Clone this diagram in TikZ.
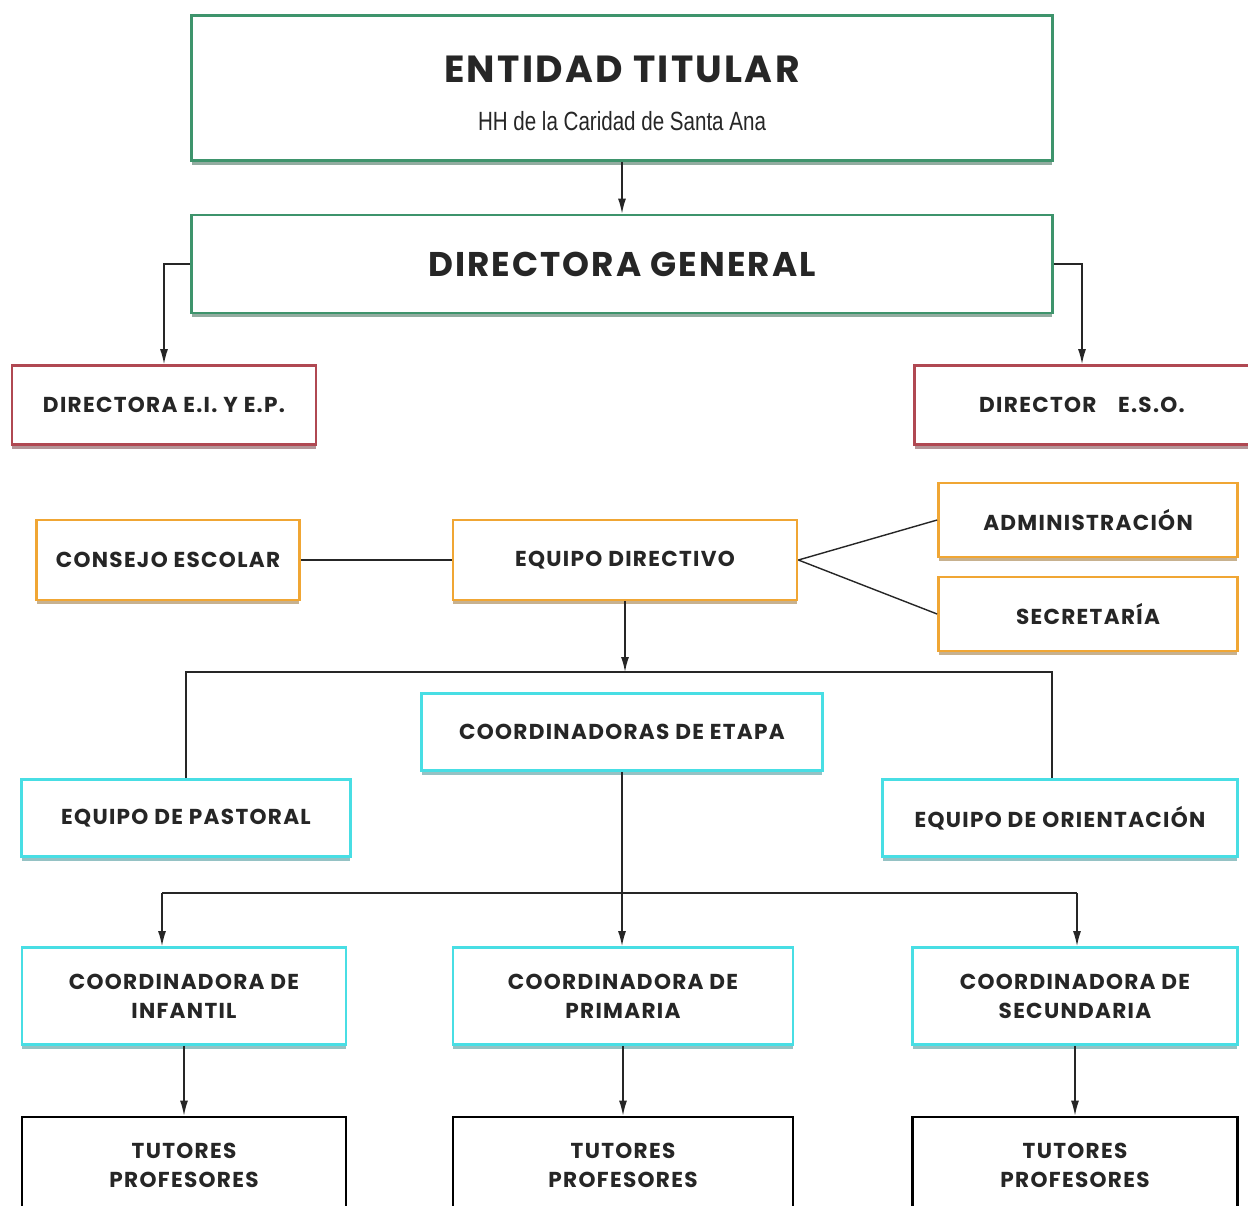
\documentclass[tikz,border=0pt]{standalone}
\usepackage{fontspec}
\setmainfont{Poppins}
\newfontfamily\boxfont{Poppins}[LetterSpace=6]
\newfontfamily\narrowfont{Liberation Sans}
\usetikzlibrary{arrows.meta,shadows}
\definecolor{titlegreen}{RGB}{62,148,108}
\definecolor{dirred}{RGB}{176,72,82}
\definecolor{teamorange}{RGB}{240,166,52}
\definecolor{coordcyan}{RGB}{72,222,228}
\definecolor{labelgray}{RGB}{38,38,38}
\tikzset{
	orgbox/.style={draw=#1, line width=1.6pt, fill=white, text=labelgray, align=center,
		font=\boxfont\bfseries\fontsize{12.3}{16.5}\selectfont,
		drop shadow={shadow xshift=0pt, shadow yshift=-2.5pt, fill=#1!60!black, opacity=0.5}},
	bigtext/.style={font=\boxfont\bfseries\fontsize{19.5}{26}\selectfont},
	link/.style={line width=0.8pt, draw=black!85},
	arr/.style={link, -{Latex[length=3mm,width=1.6mm]}},
}
\begin{document}
\begin{tikzpicture}[x=0.02cm, y=-0.02cm]
	\useasboundingbox (0,0) rectangle (1248,1205);
	% Top of the chart:
	\node[orgbox=titlegreen, minimum width=17.22cm, minimum height=2.9cm] (titular) at (622,88)
		{{\fontsize{21.5}{26}\selectfont\rule{0pt}{21pt}ENTIDAD TITULAR}\\[11pt]{\narrowfont\mdseries\fontsize{15}{18}\selectfont\scalebox{0.78}[1]{HH de la Caridad de Santa Ana}}};
	\node[orgbox=titlegreen, bigtext, minimum width=17.22cm, minimum height=1.96cm] (general) at (622,264) {DIRECTORA GENERAL};
	\node[orgbox=dirred, minimum width=6.08cm, minimum height=1.58cm] (dirEI) at (164,405) {DIRECTORA E.I. Y E.P.};
	\node[orgbox=dirred, minimum width=6.7cm, minimum height=1.58cm] (dirESO) at (1082,405) {DIRECTOR\quad E.S.O.};
	% Management:
	\node[orgbox=teamorange, minimum width=5.26cm, minimum height=1.6cm] (consejo) at (168,560) {CONSEJO ESCOLAR};
	\node[orgbox=teamorange, minimum width=6.88cm, minimum height=1.6cm] (directivo) at (625,560) {EQUIPO DIRECTIVO};
	\node[orgbox=teamorange, minimum width=5.98cm, minimum height=1.48cm] (admin) at (1088,520) {ADMINISTRACIÓN};
	\node[orgbox=teamorange, minimum width=5.98cm, minimum height=1.48cm] (secretaria) at (1088,614) {SECRETARÍA};
	% Teams and stages:
	\node[orgbox=coordcyan, minimum width=8.02cm, minimum height=1.54cm] (etapa) at (622,732) {COORDINADORAS DE ETAPA};
	\node[orgbox=coordcyan, minimum width=6.58cm, minimum height=1.54cm] (pastoral) at (186,818) {EQUIPO DE PASTORAL};
	\node[orgbox=coordcyan, minimum width=7.1cm, minimum height=1.54cm] (orientacion) at (1060,818) {EQUIPO DE ORIENTACIÓN};
	\node[orgbox=coordcyan, minimum width=6.48cm, minimum height=1.94cm] (infantil) at (184,996) {COORDINADORA DE\\INFANTIL};
	\node[orgbox=coordcyan, minimum width=6.8cm, minimum height=1.94cm] (primaria) at (623,996) {COORDINADORA DE\\PRIMARIA};
	\node[orgbox=coordcyan, minimum width=6.5cm, minimum height=1.94cm] (secundaria) at (1075,996) {COORDINADORA DE\\SECUNDARIA};
	\node[orgbox=black, minimum width=6.48cm, minimum height=1.92cm] (tutInf) at (184,1165) {TUTORES\\PROFESORES};
	\node[orgbox=black, minimum width=6.8cm, minimum height=1.92cm] (tutPri) at (623,1165) {TUTORES\\PROFESORES};
	\node[orgbox=black, minimum width=6.5cm, minimum height=1.92cm] (tutSec) at (1075,1165) {TUTORES\\PROFESORES};
	% Connectors:
	\coordinate (busA) at (625,672);
	\coordinate (busR) at (1052,672);
	\coordinate (busBL) at (162,893);
	\coordinate (busBR) at (1077,893);
	\draw[arr] (titular) -- (general);
	\draw[arr] (general.west) -| (dirEI.north);
	\draw[arr] (general.east) -| (dirESO.north);
	\draw[link] (consejo) -- (directivo);
	\draw[link] (directivo.east) -- (admin.west);
	\draw[link] (directivo.east) -- (secretaria.west);
	\draw[arr] (directivo.south) -- (busA);
	\draw[link] (pastoral.north) |- (busR) -- (busR |- orientacion.north);
	\draw[arr] (etapa.south) -- (etapa.south |- primaria.north);
	\draw[link] (busBL) -- (busBR);
	\draw[arr] (busBL) -- (busBL |- infantil.north);
	\draw[arr] (busBR) -- (busBR |- secundaria.north);
	\draw[arr] (infantil) -- (tutInf);
	\draw[arr] (primaria.south) -- (primaria.south |- tutPri.north);
	\draw[arr] (secundaria) -- (tutSec);
\end{tikzpicture}
\end{document}
